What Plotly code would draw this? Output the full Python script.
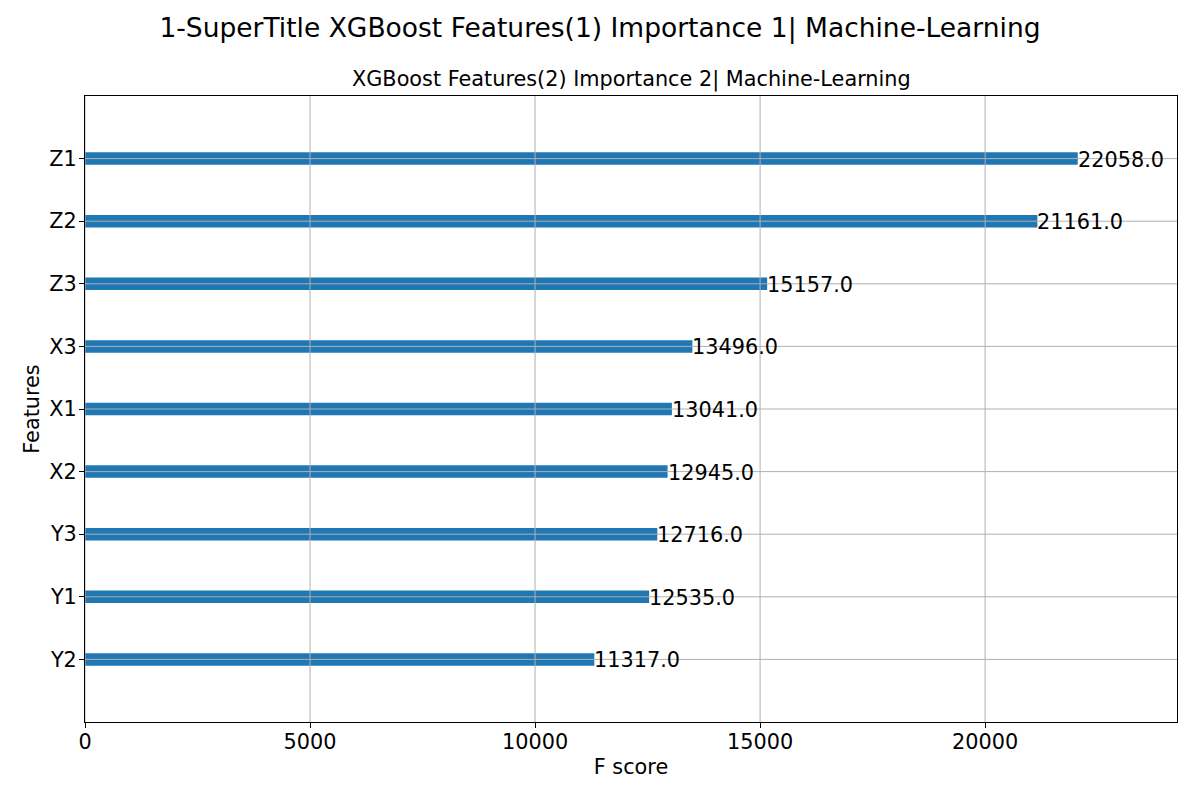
import plotly.graph_objects as go

features = ["Y2", "Y1", "Y3", "X2", "X1", "X3", "Z3", "Z2", "Z1"]
scores = [11317, 12535, 12716, 12945, 13041, 13496, 15157, 21161, 22058]
x_ticks = [0, 5000, 10000, 15000, 20000]
x_tick_labels = ["0", "5000", "10000", "15000", "20000"]

positions = list(range(len(features)))
FONT = "DejaVu Sans"
FS = 20.8
x_max = max(scores) * 1.1

fig = go.Figure()
fig.add_trace(go.Bar(
    x=scores, y=positions, orientation="h", width=0.2,
    marker=dict(color="#1f77b4", line=dict(width=0)),
    hoverinfo="x+y",
))

for v, p in zip(scores, positions):
    fig.add_annotation(x=v, y=p, text=f"{float(v)}", showarrow=False,
                       xanchor="left", yanchor="middle", xshift=-2, yshift=-1,
                       font=dict(family=FONT, size=FS, color="black"))

# grid lines drawn above the bars, like matplotlib
for t in x_ticks:
    fig.add_shape(type="line", xref="x", yref="paper", x0=t, x1=t, y0=0, y1=1,
                  line=dict(color="#b0b0b0", width=1), layer="above")
for p in positions:
    fig.add_shape(type="line", xref="paper", yref="y", x0=0, x1=1, y0=p, y1=p,
                  line=dict(color="#b0b0b0", width=1), layer="above")

fig.add_annotation(text="XGBoost Features(2) Importance 2| Machine-Learning",
                   xref="paper", yref="paper", x=0.5, y=1, xanchor="center", yanchor="bottom",
                   yshift=2, showarrow=False,
                   font=dict(family=FONT, size=FS, color="black"))

fig.update_layout(
    width=1200, height=800,
    margin=dict(l=85, r=23, t=96, b=78),
    paper_bgcolor="white", plot_bgcolor="white",
    showlegend=False,
    title=dict(text="1-SuperTitle XGBoost Features(1) Importance 1| Machine-Learning",
               xref="container", yref="container", x=0.5, xanchor="center",
               y=1 - 28 / 800, yanchor="middle",
               font=dict(family=FONT, size=26.5, color="black")),
    font=dict(family=FONT, size=FS, color="black"),
    xaxis=dict(range=[0, x_max], tickvals=x_ticks, ticktext=x_tick_labels,
               showgrid=False, zeroline=False, showline=True, mirror=True,
               linecolor="black", linewidth=1, ticks="outside", ticklen=5,
               tickcolor="black", tickfont=dict(family=FONT, size=FS),
               ticklabelstandoff=-4,
               title=dict(text="F score", font=dict(family=FONT, size=FS), standoff=6)),
    yaxis=dict(range=[-1, len(features)], tickvals=positions, ticktext=features,
               showgrid=False, zeroline=False, showline=True, mirror=True,
               linecolor="black", linewidth=1, ticks="outside", ticklen=5,
               tickcolor="black", tickfont=dict(family=FONT, size=FS),
               ticklabelstandoff=-2,
               title=dict(text="Features", font=dict(family=FONT, size=FS), standoff=4)),
)

fig.write_html("out.html")
